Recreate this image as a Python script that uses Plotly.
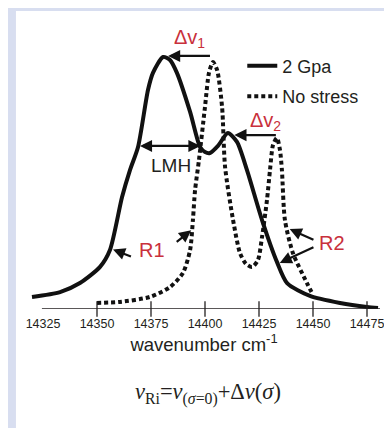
import plotly.graph_objects as go

# ---- data ----
gpa_x = [14319.9, 14332.9, 14342.1, 14351.4, 14356.0, 14361.6, 14365.3, 14369.0, 14373.6, 14375.9,
         14380.6, 14383.8, 14387.0, 14393.1, 14397.7, 14400.0, 14402.3, 14406.0, 14410.6, 14414.8,
         14419.4, 14426.4, 14433.3, 14438.0, 14448.6, 14462.5, 14475.0, 14480.1]
gpa_y = [0.048, 0.067, 0.103, 0.167, 0.234, 0.444, 0.552, 0.643, 0.869, 0.937,
         1.000, 0.988, 0.937, 0.782, 0.643, 0.623, 0.619, 0.647, 0.698, 0.663,
         0.552, 0.353, 0.187, 0.103, 0.052, 0.024, 0.008, 0.004]

nostress_x = [14350.0, 14360.6, 14374.5, 14383.8, 14389.8, 14393.1, 14394.4, 14395.4, 14397.2, 14400.0,
              14401.9, 14403.7, 14405.6, 14407.9, 14409.3, 14413.0, 14416.2, 14419.0, 14421.8, 14424.5,
              14426.4, 14428.7, 14430.1, 14431.5, 14433.3, 14434.7, 14435.6, 14437.0, 14440.7, 14447.2,
              14450.0]
nostress_y = [0.024, 0.028, 0.048, 0.087, 0.143, 0.234, 0.353, 0.472, 0.591, 0.802,
              0.940, 0.980, 0.948, 0.802, 0.563, 0.353, 0.222, 0.179, 0.167, 0.194,
              0.286, 0.433, 0.552, 0.651, 0.679, 0.631, 0.552, 0.353, 0.222, 0.103,
              0.056]

label_ticks = [14325, 14350, 14375, 14400, 14425, 14450, 14475]
mark_ticks = [14350, 14375, 14400, 14425, 14450, 14475]
axis_extent = [14324.5, 14481.0]

SANS = "Liberation Sans, Arial, sans-serif"
INK = "#231f20"
RED = "#c9303b"
LAV = "#d8def0"

fig = go.Figure()

fig.add_trace(go.Scatter(
    x=gpa_x, y=gpa_y, mode="lines", name="2 Gpa",
    line=dict(color="#111111", width=4, shape="spline", smoothing=0.7),
    legendgroup="a", hoverinfo="skip"))
fig.add_trace(go.Scatter(
    x=nostress_x, y=nostress_y, mode="lines", name="No stress",
    line=dict(color="#111111", width=4, dash="4px,3px", shape="spline", smoothing=0.7),
    legendgroup="b", hoverinfo="skip"))

# axis tick marks crossing the baseline
fig.add_trace(go.Scatter(
    x=mark_ticks, y=[0] * len(mark_ticks), mode="markers", showlegend=False,
    marker=dict(symbol="line-ns", size=11, line=dict(color=INK, width=1.3)),
    cliponaxis=False, hoverinfo="skip"))

shapes = [
    dict(type="rect", xref="paper", yref="paper", x0=-0.011, x1=1.3, y0=-0.6, y1=1.068,
         fillcolor="white", line=dict(width=0), layer="below"),
    dict(type="line", xref="x", yref="y", x0=axis_extent[0], x1=axis_extent[1], y0=0, y1=0,
         line=dict(color=INK, width=1.3)),
]

def arrow(x, y, ax, ay, both=False):
    return dict(x=x, y=y, ax=ax, ay=ay, xref="x", yref="y", axref="x", ayref="y",
                text="", showarrow=True, arrowhead=2, arrowsize=1.1, arrowwidth=2.2,
                arrowcolor="#111111", arrowside="end+start" if both else "end",
                startarrowhead=2, startarrowsize=1.1)

annotations = [
    arrow(14382.9, 1.004, 14403.0, 1.004),
    arrow(14413.6, 0.690, 14433.5, 0.690),
    arrow(14397.9, 0.647, 14369.2, 0.647, both=True),
    arrow(14357.4, 0.236, 14366.4, 0.206),
    arrow(14393.6, 0.312, 14386.2, 0.262),
    arrow(14439.2, 0.317, 14450.9, 0.272),
    arrow(14434.6, 0.183, 14450.9, 0.248),
    dict(x=14393.0, y=1.073, xref="x", yref="y", showarrow=False,
         text="Δv<sub>1</sub>", font=dict(family=SANS, size=20, color=RED)),
    dict(x=14428.0, y=0.745, xref="x", yref="y", showarrow=False,
         text="Δv<sub>2</sub>", font=dict(family=SANS, size=20, color=RED)),
    dict(x=14384.3, y=0.568, xref="x", yref="y", showarrow=False,
         text="LMH", font=dict(family=SANS, size=19, color=INK)),
    dict(x=14375.5, y=0.234, xref="x", yref="y", showarrow=False,
         text="R1", font=dict(family=SANS, size=20, color=RED)),
    dict(x=14458.8, y=0.262, xref="x", yref="y", showarrow=False,
         text="R2", font=dict(family=SANS, size=20, color=RED)),
    dict(x=14401.4, y=-0.361, xref="x", yref="paper", showarrow=False,
         text="<i>ν</i><sub>Ri</sub>=<i>ν</i><sub>(<i>σ</i>=0)</sub>+Δ<i>ν</i>(<i>σ</i>)",
         font=dict(family="Liberation Serif, Times New Roman, serif", size=22.5, color=INK)),
]

fig.update_layout(
    width=384, height=420,
    margin=dict(l=12, r=4, t=22, b=119, autoexpand=False),
    paper_bgcolor=LAV, plot_bgcolor="rgba(0,0,0,0)",
    shapes=shapes, annotations=annotations,
    showlegend=True,
    legend=dict(x=0.604, y=0.937, xanchor="left", yanchor="top",
                bgcolor="rgba(0,0,0,0)", traceorder="grouped", tracegroupgap=4,
                font=dict(family=SANS, size=18, color=INK)),
    xaxis=dict(range=[14314.35, 14484.72], tickvals=label_ticks,
               ticktext=[str(v) for v in label_ticks], ticks="",
               showline=False, showgrid=False, zeroline=False, automargin=False,
               tickfont=dict(family=SANS, size=12.5, color=INK),
               ticklabelstandoff=5,
               title=dict(text="wavenumber cm<sup>-1</sup>", standoff=8,
                          font=dict(family=SANS, size=18.5, color=INK))),
    yaxis=dict(range=[0, 1.107], visible=False),
)

fig.write_html("out.html")
